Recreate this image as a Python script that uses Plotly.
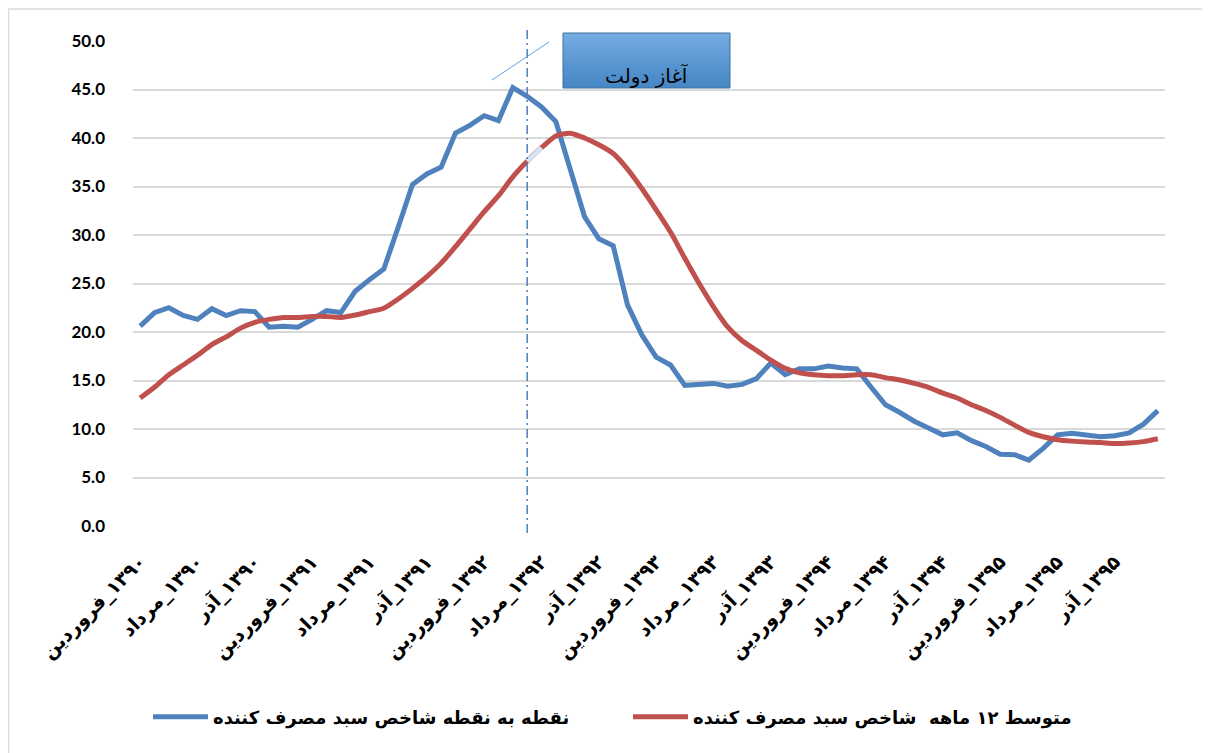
import plotly.graph_objects as go

months = ["فروردین", "اردیبهشت", "خرداد", "تیر", "مرداد", "شهریور",
          "مهر", "آبان", "آذر", "دی", "بهمن", "اسفند"]
years = ["۱۳۹۰", "۱۳۹۱", "۱۳۹۲", "۱۳۹۳", "۱۳۹۴", "۱۳۹۵"]
categories = [m + "\u200e_" + y for y in years for m in months]

point_to_point = [20.6, 22.0, 22.5, 21.7, 21.3, 22.4, 21.7, 22.2, 22.1, 20.5, 20.6, 20.5,
                  21.3, 22.2, 22.0, 24.2, 25.4, 26.5, 30.8, 35.2, 36.3, 37.0, 40.5, 41.3,
                  42.3, 41.8, 45.2, 44.3, 43.2, 41.7, 36.8, 31.9, 29.6, 28.9, 22.8, 19.7,
                  17.4, 16.6, 14.5, 14.6, 14.7, 14.4, 14.6, 15.2, 16.8, 15.6, 16.2, 16.2,
                  16.5, 16.3, 16.2, 14.3, 12.5, 11.7, 10.8, 10.1, 9.4, 9.6, 8.8, 8.2,
                  7.4, 7.35, 6.8, 8.0, 9.4, 9.55, 9.4, 9.2, 9.3, 9.6, 10.5, 11.9]

avg_12m = [13.2, 14.3, 15.6, 16.6, 17.6, 18.7, 19.5, 20.4, 21.0, 21.3, 21.5, 21.5,
           21.6, 21.6, 21.5, 21.75, 22.1, 22.45, 23.4, 24.5, 25.7, 27.1, 28.8, 30.6,
           32.4, 34.05, 36.0, 37.6, 39.0, 40.2, 40.5, 40.0, 39.3, 38.4, 36.8, 34.8,
           32.6, 30.3, 27.6, 25.0, 22.6, 20.5, 19.1, 18.1, 17.1, 16.25, 15.8, 15.6,
           15.5, 15.5, 15.6, 15.6, 15.3, 15.05, 14.7, 14.3, 13.7, 13.2, 12.5, 11.9,
           11.2, 10.4, 9.65, 9.2, 8.9, 8.75, 8.65, 8.6, 8.5, 8.55, 8.7, 9.0]

tick_idx = list(range(0, 72, 4))
tick_text = [categories[i] for i in tick_idx]
y_ticks = [0, 5, 10, 15, 20, 25, 30, 35, 40, 45, 50]
y_tick_text = [f"{v:.1f}" for v in y_ticks]

name_blue = "نقطه به نقطه شاخص سبد مصرف کننده"
name_red = "متوسط ۱۲ ماهه  شاخص سبد مصرف کننده"
box_text = "آغاز دولت"
gov_start_idx = 27

BLUE = "#4f81bd"
RED = "#c0504d"

x = list(range(len(categories)))

fig = go.Figure()
fig.add_trace(go.Scatter(x=x, y=point_to_point, mode="lines", name=name_blue,
                         line=dict(color=BLUE, width=5)))
fig.add_trace(go.Scatter(x=x, y=avg_12m, mode="lines", name=name_red,
                         line=dict(color=RED, width=5, shape="spline", smoothing=0.6)))
fig.add_trace(go.Scatter(x=[gov_start_idx, gov_start_idx + 1],
                         y=[avg_12m[gov_start_idx], avg_12m[gov_start_idx + 1]],
                         mode="lines", showlegend=False, hoverinfo="skip",
                         line=dict(color="#d3e5f5", width=5)))

# page is offset by the 8px body margin; figure is sized to fit the window
W, H = 1202, 745
L, T, R, B = 125, 33, 45, 227
pw, ph = W - L - R, H - T - B


def px(xp):
    return (xp - 8 - L) / pw


def py(yp):
    return (H - B - (yp - 8)) / ph


shapes = []
# chart border
shapes.append(dict(type="rect", xref="paper", yref="paper", x0=px(8.5), x1=px(1230),
                   y0=py(780), y1=py(9), line=dict(color="#d9d9d9", width=1.5), layer="below"))
# vertical dash-dot line
shapes.append(dict(type="line", xref="x", yref="paper", x0=gov_start_idx, x1=gov_start_idx,
                   y0=py(533), y1=py(30),
                   line=dict(color="#4a7ebb", width=1.5, dash="9px,4px,2px,4px")))
# callout line
shapes.append(dict(type="line", xref="paper", yref="paper", x0=px(492), y0=py(80),
                   x1=px(549), y1=py(42), line=dict(color="#5b9bd5", width=1)))
# gradient box (overlapping bands, top to bottom)
x0b, x1b, y0b, y1b = px(563), px(730), py(88), py(33)
nb = 16
top_c = (0x74, 0xab, 0xe0)
bot_c = (0x46, 0x87, 0xc6)
for k in range(nb):
    t = k / (nb - 1)
    c = tuple(int(round(top_c[j] + (bot_c[j] - top_c[j]) * t)) for j in range(3))
    ya = y1b - (y1b - y0b) * k / nb
    shapes.append(dict(type="rect", xref="paper", yref="paper", x0=x0b, x1=x1b,
                       y0=y0b, y1=ya, line=dict(width=0),
                       fillcolor="rgb(%d,%d,%d)" % c))
shapes.append(dict(type="rect", xref="paper", yref="paper", x0=x0b, x1=x1b,
                   y0=y0b, y1=y1b, line=dict(color="#41719c", width=1)))

fig.update_layout(
    width=W, height=H,
    margin=dict(l=L, r=R, t=T, b=B, autoexpand=False),
    paper_bgcolor="white", plot_bgcolor="white",
    shapes=shapes,
    annotations=[dict(x=(x0b + x1b) / 2, y=(y0b + y1b) / 2, xref="paper", yref="paper",
                      text=box_text, showarrow=False,
                      font=dict(family="DejaVu Sans", size=20, color="black"))],
    showlegend=True,
    legend=dict(orientation="h", x=px(148), xanchor="left", y=py(717), yanchor="middle",
                font=dict(family="DejaVu Sans", size=18, color="black", weight="bold"),
                itemwidth=55, entrywidth=410, entrywidthmode="pixels"),
    xaxis=dict(range=[-0.5, 71.5], tickmode="array", tickvals=tick_idx, ticktext=tick_text,
               tickangle=-45, showgrid=False, zeroline=False, showline=False, ticks="",
               ticklabelstandoff=20, automargin=False,
               tickfont=dict(family="DejaVu Sans", size=19, color="black", weight="bold")),
    yaxis=dict(range=[0, 50], tickmode="array", tickvals=y_ticks, ticktext=y_tick_text,
               showgrid=True, gridcolor="#d9d9d9", gridwidth=1.5, zeroline=False,
               showline=False, ticks="", ticklabelstandoff=27, automargin=False,
               tickfont=dict(family="Lato", size=17, color="black", weight="bold")),
)

fig.write_html("out.html")
